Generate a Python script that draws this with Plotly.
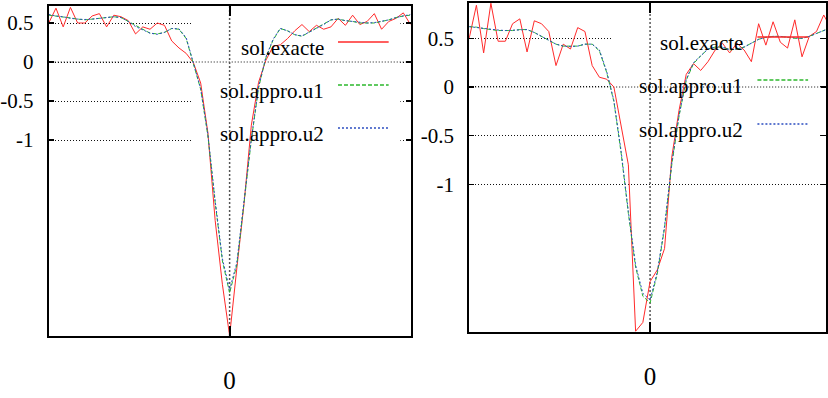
import plotly.graph_objects as go

# ---------------- data ----------------
x_vals = [-1.00, -0.96, -0.92, -0.88, -0.84, -0.80, -0.76, -0.72, -0.68, -0.64,
          -0.60, -0.56, -0.52, -0.48, -0.44, -0.40, -0.36, -0.32, -0.28, -0.24,
          -0.20, -0.16, -0.12, -0.08, -0.04, 0.00, 0.04, 0.08, 0.12, 0.16,
          0.20, 0.24, 0.28, 0.32, 0.36, 0.40, 0.44, 0.48, 0.52, 0.56,
          0.60, 0.64, 0.68, 0.72, 0.76, 0.80, 0.84, 0.88, 0.92, 0.96, 1.00]

series_names = ["sol.exacte", "sol.appro.u1", "sol.appro.u2"]

# left panel
left_exacte = [0.50, 0.69, 0.45, 0.70, 0.50, 0.50, 0.59, 0.62, 0.45, 0.60,
               0.58, 0.53, 0.36, 0.45, 0.42, 0.50, 0.47, 0.27, 0.18, 0.11,
               -0.01, -0.27, -0.91, -2.03, -2.85, -3.51, -2.64, -1.81, -0.81, -0.26,
               0.02, 0.20, 0.22, 0.30, 0.40, 0.48, 0.39, 0.47, 0.42, 0.45,
               0.56, 0.47, 0.60, 0.48, 0.52, 0.62, 0.42, 0.52, 0.56, 0.63, 0.48]
left_u1 = [0.60, 0.59, 0.58, 0.565, 0.55, 0.54, 0.55, 0.56, 0.57, 0.58,
           0.57, 0.52, 0.46, 0.41, 0.37, 0.36, 0.38, 0.43, 0.42, 0.30,
           -0.02, -0.35, -0.95, -1.80, -2.55, -2.96, -2.60, -1.80, -1.00, -0.33,
           0.05, 0.28, 0.43, 0.40, 0.35, 0.33, 0.38, 0.43, 0.48, 0.54,
           0.55, 0.53, 0.52, 0.50, 0.50, 0.50, 0.52, 0.54, 0.57, 0.59, 0.60]
left_u2 = [0.61, 0.59, 0.58, 0.56, 0.55, 0.545, 0.55, 0.56, 0.575, 0.58,
           0.57, 0.52, 0.455, 0.41, 0.37, 0.355, 0.38, 0.43, 0.425, 0.31,
           -0.01, -0.34, -0.93, -1.78, -2.52, -2.92, -2.57, -1.78, -0.98, -0.32,
           0.06, 0.29, 0.43, 0.40, 0.35, 0.335, 0.38, 0.43, 0.48, 0.54,
           0.55, 0.53, 0.52, 0.505, 0.50, 0.505, 0.52, 0.54, 0.57, 0.59, 0.61]

# right panel
right_exacte = [0.50, 0.84, 0.35, 0.86, 0.47, 0.47, 0.65, 0.70, 0.36, 0.68,
                0.65, 0.57, 0.22, 0.44, 0.39, 0.61, 0.57, 0.22, 0.10, 0.08,
                0.00, -0.38, -0.80, -2.51, -2.42, -2.00, -1.88, -1.66, -0.72, -0.24,
                0.13, 0.24, 0.17, 0.26, 0.38, 0.45, 0.35, 0.45, 0.38, 0.26,
                0.65, 0.43, 0.67, 0.46, 0.40, 0.69, 0.31, 0.52, 0.57, 0.74, 0.60]
right_u1 = [0.62, 0.615, 0.60, 0.59, 0.58, 0.58, 0.58, 0.59, 0.59, 0.56,
            0.52, 0.48, 0.44, 0.42, 0.42, 0.42, 0.44, 0.44, 0.37, 0.15,
            -0.15, -0.68, -1.30, -1.85, -2.15, -2.22, -1.92, -1.45, -0.80, -0.30,
            0.07, 0.24, 0.32, 0.39, 0.41, 0.41, 0.38, 0.39, 0.41, 0.45,
            0.49, 0.51, 0.52, 0.52, 0.51, 0.50, 0.50, 0.52, 0.55, 0.58, 0.61]
right_u2 = [0.62, 0.61, 0.60, 0.59, 0.585, 0.58, 0.585, 0.59, 0.59, 0.56,
            0.52, 0.48, 0.44, 0.42, 0.415, 0.42, 0.44, 0.44, 0.38, 0.16,
            -0.14, -0.66, -1.28, -1.83, -2.12, -2.19, -1.90, -1.43, -0.78, -0.29,
            0.08, 0.25, 0.32, 0.39, 0.41, 0.41, 0.385, 0.39, 0.41, 0.45,
            0.49, 0.51, 0.52, 0.52, 0.51, 0.505, 0.50, 0.52, 0.55, 0.58, 0.61]

y_tickvals = [0.5, 0, -0.5, -1]
y_ticktext = ["0.5", "0", "-0.5", "-1"]
x_tickvals = [0]
x_ticktext = ["0"]

# ---------------- styling / layout ----------------
W, H = 828, 398
FONT = "Liberation Serif, Times New Roman, serif"
colors = ["#ff2a2a", "#2cb82c", "#2a4cc0"]
dashes = ["solid", "4px,2px", "2px,2px"]


def px_x(p):
    return p / W


def px_y(p):
    return 1 - p / H


panels = [
    dict(x=("x", "y"), data=[left_exacte, left_u1, left_u2],
         xdom=[px_x(46), px_x(410)], ydom=[px_y(336), px_y(6)],
         xr=[-1, 1], yr=[-3.513, 0.718],
         mask=[0.396, 0.972, 0.557, 1.0],
         leg_text_x=325, leg_line=(337, 388), leg_y=[42, 85, 128]),
    dict(x=("x2", "y2"), data=[right_exacte, right_u1, right_u2],
         xdom=[px_x(469), 1.0], ydom=[px_y(332), px_y(3)],
         xr=[-1, 0.9725], yr=[-2.518, 0.863],
         mask=[0.401, 0.978, 0.547, 1.0],
         leg_text_x=747, leg_line=(759, 810), leg_y=[37, 80, 124]),
]

fig = go.Figure()
shapes = []
annotations = []
layout = dict(
    width=W, height=H, autosize=False,
    margin=dict(l=0, r=0, t=0, b=0),
    paper_bgcolor="white", plot_bgcolor="white",
    showlegend=False,
    font=dict(family=FONT, color="black"),
)

for k, p in enumerate(panels):
    xa, ya = p["x"]
    for i in range(3):
        fig.add_trace(go.Scatter(
            x=x_vals, y=p["data"][i], mode="lines", name=series_names[i],
            xaxis=xa, yaxis=ya, cliponaxis=True,
            line=dict(color=colors[i], width=1, dash=dashes[i]),
        ))
    axname = "" if k == 0 else "2"
    layout["xaxis" + axname] = dict(
        domain=p["xdom"], range=p["xr"], anchor=ya,
        tickmode="array", tickvals=x_tickvals, ticktext=x_ticktext,
        ticks="inside", ticklen=10, tickwidth=2, tickcolor="black",
        showline=True, linecolor="black", linewidth=2, mirror="ticks",
        showgrid=False, zeroline=False,
        tickfont=dict(family=FONT, size=25, color="black"),
        ticklabelstandoff=21, fixedrange=True,
    )
    layout["yaxis" + axname] = dict(
        domain=p["ydom"], range=p["yr"], anchor=xa,
        tickmode="array", tickvals=y_tickvals, ticktext=y_ticktext,
        ticks="inside", ticklen=5, tickwidth=1.5, tickcolor="black",
        showline=True, linecolor="black", linewidth=2, mirror="ticks",
        showgrid=True, gridcolor="#111111", gridwidth=1, griddash="1px,2px",
        zeroline=False,
        tickfont=dict(family=FONT, size=21, color="black"),
        ticklabelstandoff=9, fixedrange=True,
    )
    xr, yr = p["xr"], p["yr"]
    m = p["mask"]
    # opaque key box masking the grid (in axis coordinates)
    shapes.append(dict(type="rect", xref=xa, yref=ya,
                       x0=xr[0] + m[0] * (xr[1] - xr[0]), x1=xr[0] + m[1] * (xr[1] - xr[0]),
                       y0=yr[0] + m[2] * (yr[1] - yr[0]), y1=yr[0] + m[3] * (yr[1] - yr[0]),
                       fillcolor="white", line=dict(width=0), layer="between"))
    # zero axes drawn above the key box
    shapes.append(dict(type="line", xref=xa, yref=ya, x0=xr[0], x1=xr[1], y0=0, y1=0,
                       line=dict(color="#111111", width=1.2, dash="1px,2px"), layer="between"))
    shapes.append(dict(type="line", xref=xa, yref=ya, x0=0, x1=0, y0=yr[0], y1=yr[1],
                       line=dict(color="#555555", width=1.5, dash="2px,2px"), layer="between"))
    # key (gnuplot style: label, then sample)
    for i in range(3):
        yy = p["leg_y"][i]
        annotations.append(dict(
            text=series_names[i], xref="paper", yref="paper",
            x=px_x(p["leg_text_x"]), y=px_y(yy + 6), xanchor="right", yanchor="middle",
            showarrow=False, font=dict(family=FONT, size=21, color="black"),
        ))
        shapes.append(dict(type="line", xref="paper", yref="paper",
                           x0=px_x(p["leg_line"][0]), x1=px_x(p["leg_line"][1]),
                           y0=px_y(yy), y1=px_y(yy),
                           line=dict(color=colors[i], width=1.5, dash=dashes[i]),
                           layer="above"))

layout["shapes"] = shapes
layout["annotations"] = annotations
fig.update_layout(**layout)
fig.write_html("out.html",
               config={"displayModeBar": False, "staticPlot": True},
               post_script="document.body.style.margin='0';document.body.style.padding='0';")
